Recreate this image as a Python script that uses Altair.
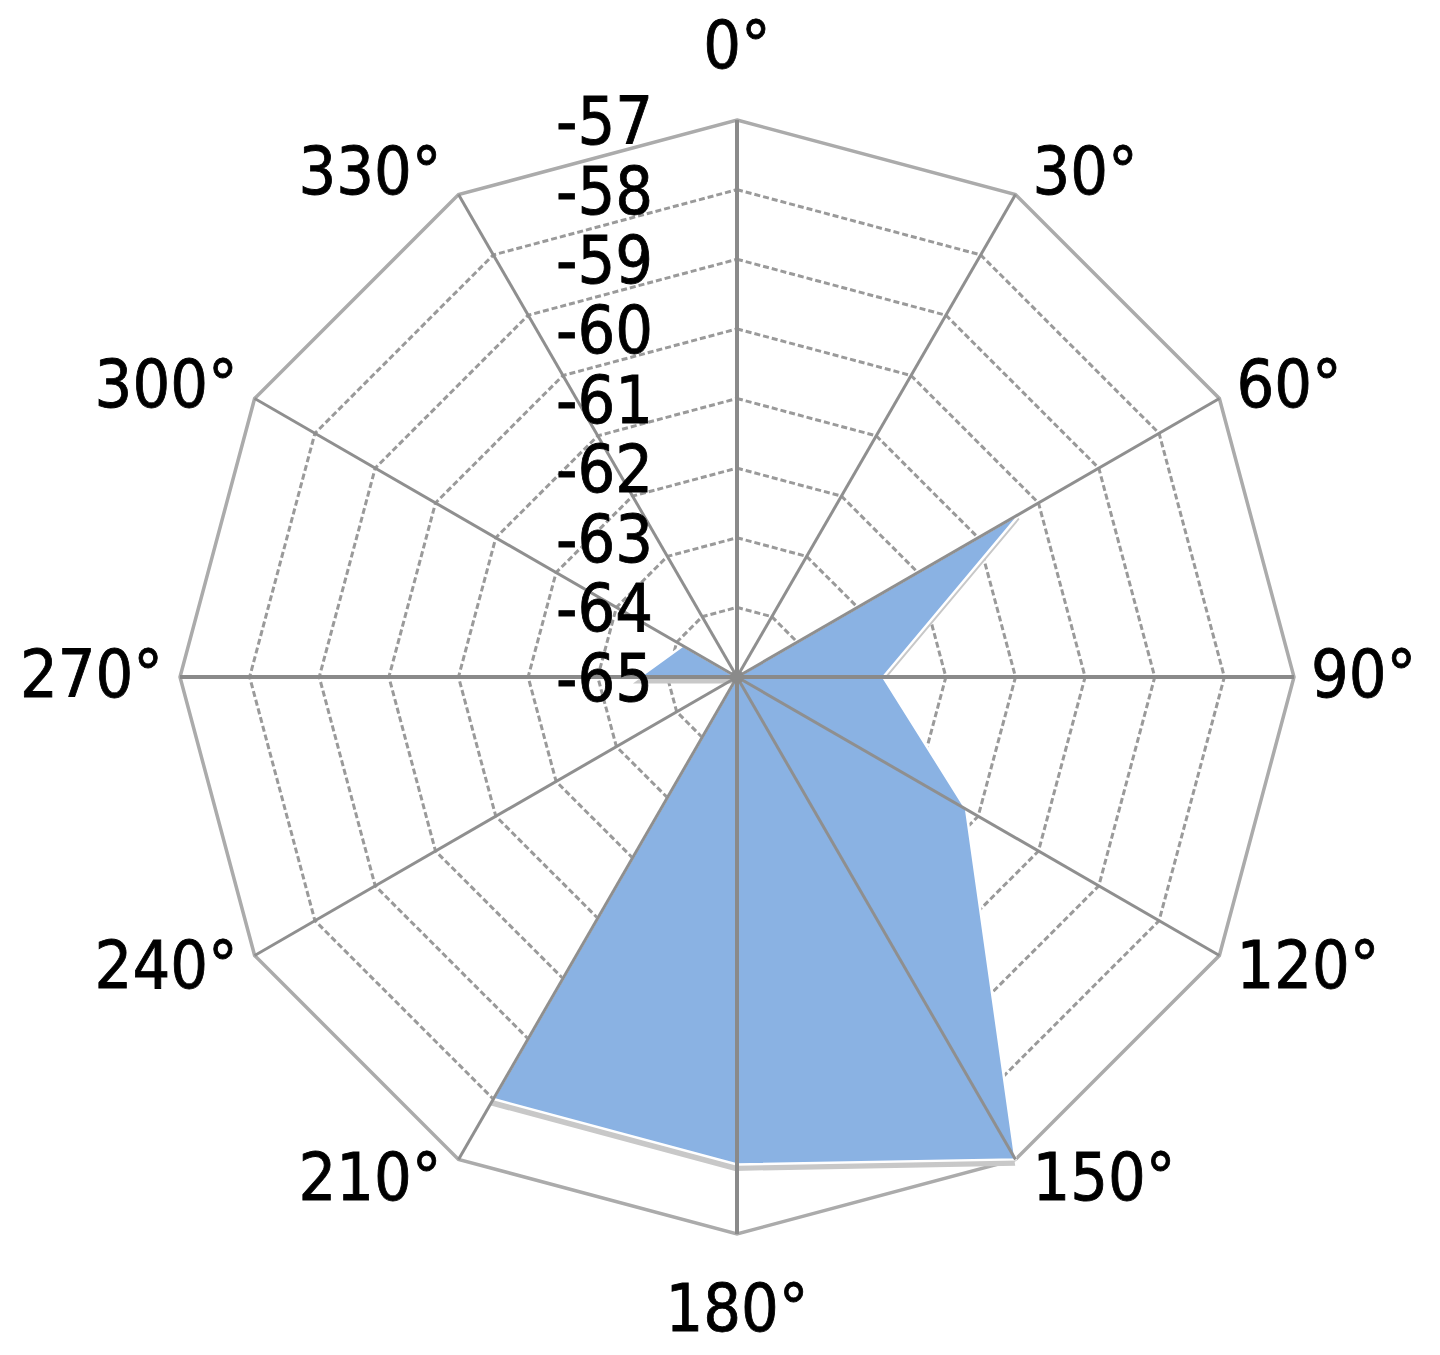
import math
import altair as alt
import pandas as pd

# ---- data ----
angles = [0, 30, 60, 90, 120, 150, 180, 210, 240, 270, 300, 330]
angle_labels = ["0°", "30°", "60°", "90°", "120°", "150°", "180°", "210°", "240°", "270°", "300°", "330°"]
values = [-65, -65, -60.3, -62.9, -61.2, -57, -58, -58, -65, -63.6, -64.1, -65]
ring_values = [-64, -63, -62, -61, -60, -59, -58, -57]
tick_values = [-57, -58, -59, -60, -61, -62, -63, -64, -65]
tick_labels = ["-57", "-58", "-59", "-60", "-61", "-62", "-63", "-64", "-65"]
v_min, v_max = -65, -57

FONT = "DejaVu Sans Condensed, DejaVu Sans"
FS = 66
K = 69.625  # px per unit (used for domain fitting only)

W, H = 1424, 1339
xdom = [-729 / K, 695 / K]
ydom = [-(670) / K, 669 / K]
R = v_max - v_min


def pos(a, r):
    t = math.radians(a)
    return r * math.sin(t), r * math.cos(t)


# polygon
poly = []
for i, (a, v) in enumerate(zip(angles, values)):
    x, y = pos(a, v - v_min)
    poly.append({"i": i, "x": x, "y": y})
poly_df = pd.DataFrame(poly)

# rings
rings = []
for rv in ring_values:
    for i, a in enumerate(angles):
        x, y = pos(a, rv - v_min)
        rings.append({"ring": rv, "i": i, "x": x, "y": y, "outer": rv == v_max})
ring_df = pd.DataFrame(rings)

# spokes
spokes = []
for a in angles:
    x, y = pos(a, R)
    spokes.append({"x": 0.0, "y": 0.0, "x2": x, "y2": y, "main": a % 90 == 0})
spoke_df = pd.DataFrame(spokes)

# angle labels
lab = []
for a, t in zip(angles, angle_labels):
    s, c = math.sin(math.radians(a)), math.cos(math.radians(a))
    if a == 0:
        x, y, al = 0.0, R + 72 / K, "center"
    elif a == 180:
        x, y, al = 0.0, -R - 77 / K, "center"
    else:
        x = R * s + (17 / K) * (1 if s > 0 else -1)
        y = R * c + 24 * c / K
        al = "left" if s > 0 else "right"
    lab.append({"x": x, "y": y, "t": t, "al": al})
lab_df = pd.DataFrame(lab)

tick_df = pd.DataFrame({"y": [tv - v_min for tv in tick_values], "t": tick_labels, "x": 0.0})

xs = alt.Scale(domain=xdom, nice=False, zero=False)
ys = alt.Scale(domain=ydom, nice=False, zero=False)
X = lambda f="x": alt.X(f"{f}:Q", scale=xs, axis=None)
Y = lambda f="y": alt.Y(f"{f}:Q", scale=ys, axis=None)

inner = alt.Chart(ring_df[~ring_df["outer"]]).mark_line(
    interpolate="linear-closed", stroke="#9a9a9a", strokeWidth=3, strokeDash=[6, 3]
).encode(x=X(), y=Y(), detail="ring:N", order="i:Q")

outer = alt.Chart(ring_df[ring_df["outer"]]).mark_line(
    interpolate="linear-closed", stroke="#ababab", strokeWidth=3.5
).encode(x=X(), y=Y(), detail="ring:N", order="i:Q")

shadow = alt.Chart(poly_df).mark_line(
    interpolate="linear-closed", fill="#c8c8c8", stroke="#c8c8c8", strokeWidth=3, yOffset=5, xOffset=-2
).encode(x=X(), y=Y(), order="i:Q")

fill = alt.Chart(poly_df).mark_line(
    interpolate="linear-closed", fill="#8AB2E3", stroke="#ffffff", strokeWidth=2.5
).encode(x=X(), y=Y(), order="i:Q")

spk = alt.Chart(spoke_df[~spoke_df["main"]]).mark_rule(stroke="#8f8f8f", strokeWidth=3).encode(
    x=X(), y=Y(), x2="x2:Q", y2="y2:Q"
)
spk_main = alt.Chart(spoke_df[spoke_df["main"]]).mark_rule(stroke="#8a8a8a", strokeWidth=4).encode(
    x=X(), y=Y(), x2="x2:Q", y2="y2:Q"
)

dot = alt.Chart(pd.DataFrame({"x": [0.0], "y": [0.0]})).mark_point(
    filled=True, color="#8a8a8a", size=180, opacity=1
).encode(x=X(), y=Y())

ticks = alt.Chart(tick_df).mark_text(
    align="right", baseline="middle", dx=-84, dy=4, font=FONT, fontSize=FS, color="#000000",
    stroke="#000000", strokeWidth=0.8
).encode(x=X(), y=Y(), text="t:N")

labs = []
for al in ["left", "right", "center"]:
    labs.append(
        alt.Chart(lab_df[lab_df["al"] == al]).mark_text(
            align=al, baseline="middle", font=FONT, fontSize=FS, color="#000000",
            stroke="#000000", strokeWidth=0.8
        ).encode(x=X(), y=Y(), text="t:N")
    )

chart = alt.layer(inner, outer, shadow, fill, spk, spk_main, dot, ticks, *labs).properties(
    width=W, height=H, autosize=alt.AutoSizeParams(type="none"), padding=0
).configure_view(stroke=None)

chart.save("out.html", embed_options={"renderer": "svg", "actions": False})
